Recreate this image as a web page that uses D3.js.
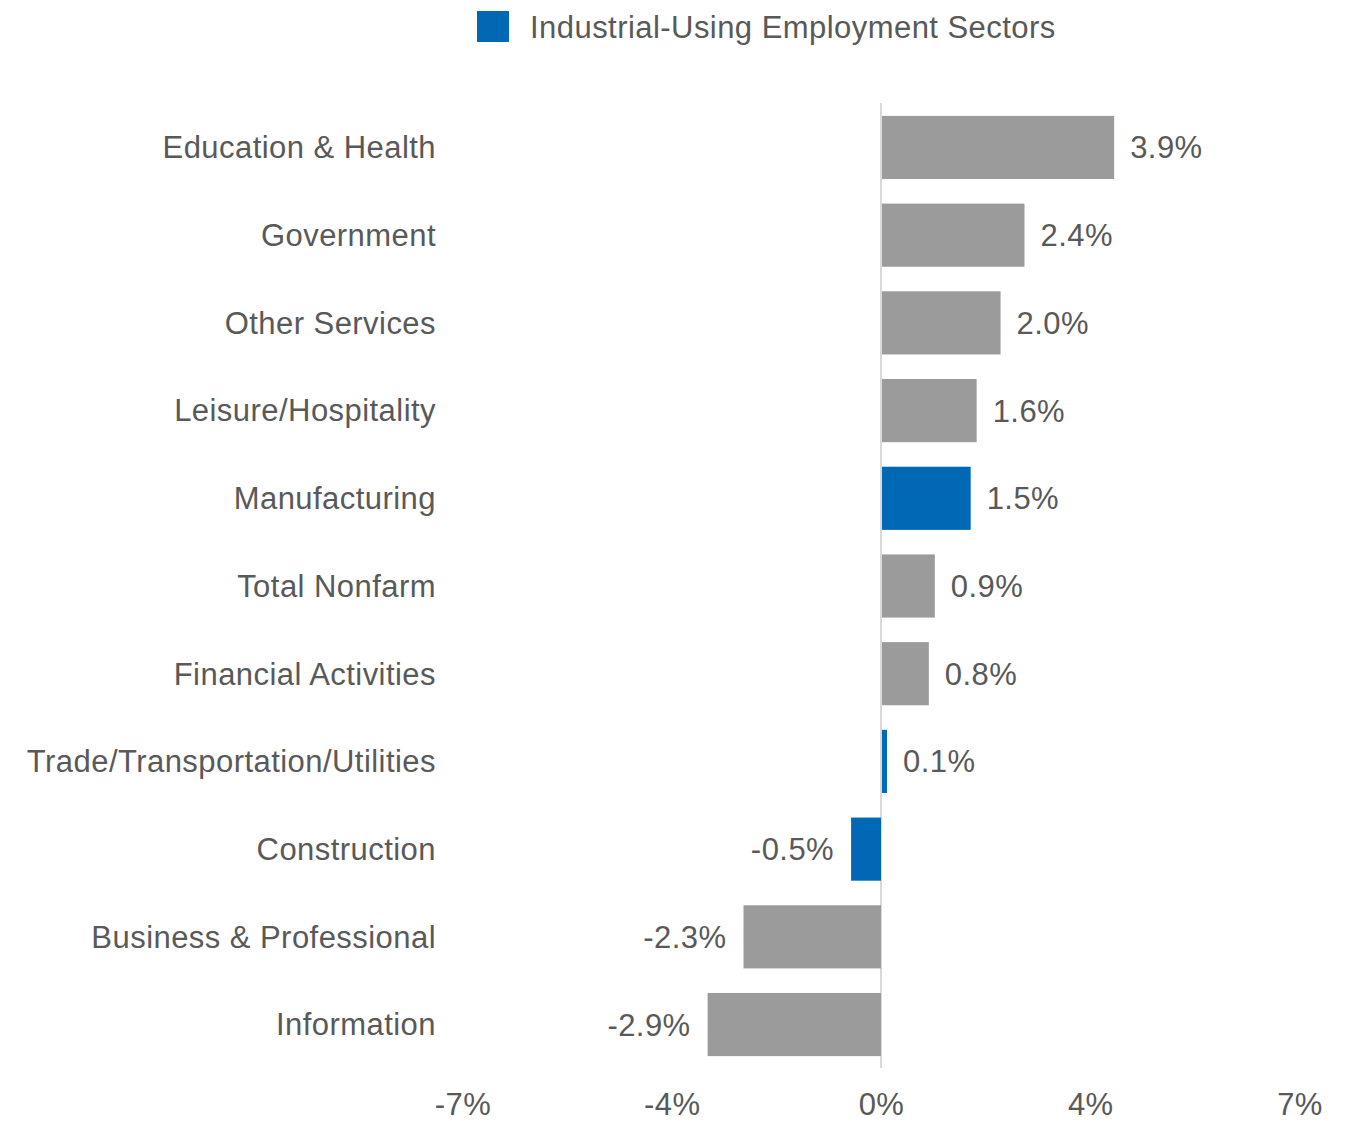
<!DOCTYPE html>
<html>
<head>
<meta charset="utf-8">
<script src="https://cdn.jsdelivr.net/npm/d3@7"></script>
<style>
  html, body { margin: 0; padding: 0; background: #fff; }
  svg { display: block; font-family: "Liberation Sans", Arial, sans-serif; }
</style>
</head>
<body>
<svg id="chart" width="1359" height="1121"></svg>
<script>
const categories = ["Education & Health", "Government", "Other Services", "Leisure/Hospitality",
  "Manufacturing", "Total Nonfarm", "Financial Activities", "Trade/Transportation/Utilities",
  "Construction", "Business & Professional", "Information"];
const values = [3.9, 2.4, 2.0, 1.6, 1.5, 0.9, 0.8, 0.1, -0.5, -2.3, -2.9];
const industrialUsing = ["Manufacturing", "Trade/Transportation/Utilities", "Construction"];
const tickValues = [-7, -3.5, 0, 3.5, 7];
const tickLabels = ["-7%", "-4%", "0%", "4%", "7%"];
const legendLabel = "Industrial-Using Employment Sectors";

const GRAY = "#9b9b9b", BLUE = "#0068b5", TEXT = "#595959";
const LS = "0.45px";
const svg = d3.select("#chart");

const x = d3.scaleLinear().domain([-7, 7]).range([462.5, 1299.5]);
const y = d3.scaleBand().domain(categories).range([103.6, 1068.4]).paddingInner(0.28).paddingOuter(0.14);

// zero line
svg.append("line")
  .attr("x1", x(0)).attr("x2", x(0))
  .attr("y1", 103).attr("y2", 1068)
  .attr("stroke", "#d9d9d9").attr("stroke-width", 2);

const data = categories.map((c, i) => ({ c, v: values[i] }));

svg.append("g").selectAll("rect").data(data).join("rect")
  .attr("x", d => x(Math.min(0, d.v)) + (d.v >= 0 ? 1 : 0))
  .attr("width", d => Math.abs(x(d.v) - x(0)) - (d.v >= 0 ? 1 : 0))
  .attr("y", d => y(d.c))
  .attr("height", y.bandwidth())
  .attr("fill", d => industrialUsing.includes(d.c) ? BLUE : GRAY);

// value labels
svg.append("g").selectAll("text").data(data).join("text")
  .attr("x", d => d.v >= 0 ? x(d.v) + 16 : x(d.v) - 17)
  .attr("y", d => y(d.c) + y.bandwidth() / 2 + 11)
  .attr("text-anchor", d => d.v >= 0 ? "start" : "end")
  .attr("font-size", 31).attr("fill", TEXT).attr("letter-spacing", LS)
  .text(d => d.v.toFixed(1) + "%");

// category labels
const yAxis = d3.axisLeft(y).tickSize(0).tickPadding(0);
const gy = svg.append("g").attr("transform", "translate(436,0)").call(yAxis);
gy.select(".domain").remove();
gy.selectAll("text").attr("font-size", 31).attr("fill", TEXT).attr("letter-spacing", LS)
  .attr("font-family", "'Liberation Sans', Arial, sans-serif").attr("dy", "0.35em");

// x axis
const xAxis = d3.axisBottom(x).tickValues(tickValues).tickSize(0).tickPadding(0)
  .tickFormat((d, i) => tickLabels[i]);
const gx = svg.append("g").attr("transform", "translate(0,1115)").call(xAxis);
gx.select(".domain").remove();
gx.selectAll("text").attr("font-size", 31).attr("fill", TEXT).attr("letter-spacing", LS)
  .attr("font-family", "'Liberation Sans', Arial, sans-serif").attr("dy", 0);

// legend
svg.append("rect").attr("x", 477).attr("y", 11).attr("width", 32).attr("height", 31).attr("fill", BLUE);
svg.append("text").attr("x", 530).attr("y", 38).attr("font-size", 31).attr("fill", TEXT)
  .attr("letter-spacing", LS).text(legendLabel);
</script>
</body>
</html>
